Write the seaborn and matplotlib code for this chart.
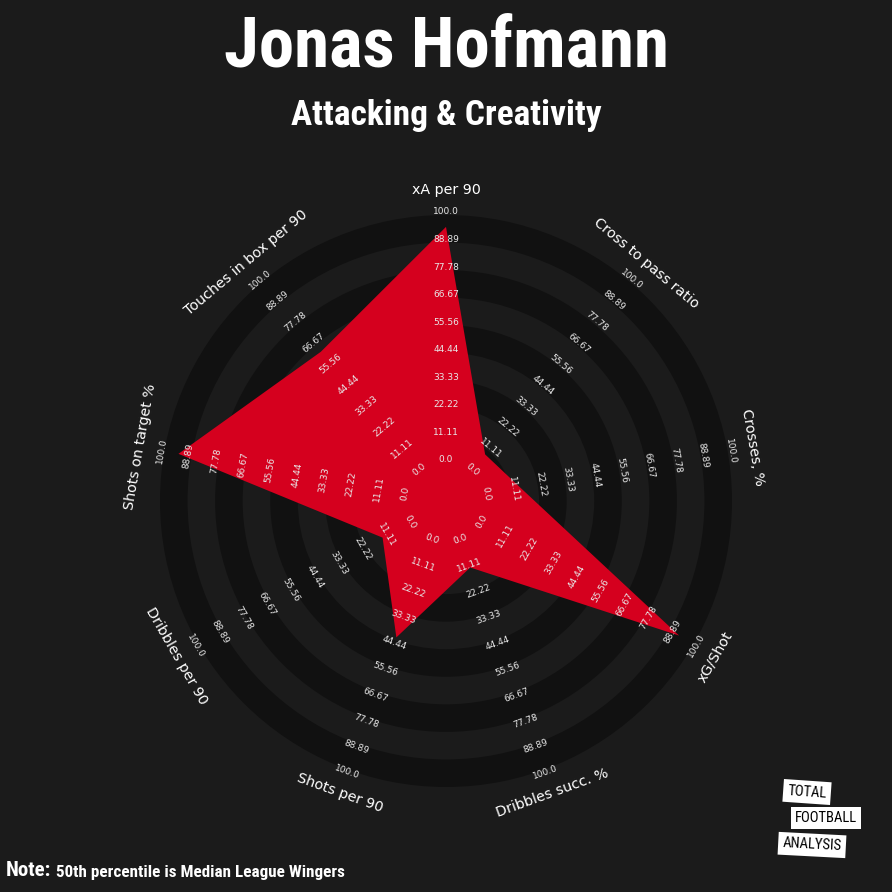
import numpy as np
import matplotlib
matplotlib.use("Agg")
import matplotlib.pyplot as plt
import seaborn as sns
from matplotlib.patches import Circle
from matplotlib import font_manager

# ---------------- data ----------------
params = ["xA per 90", "Cross to pass ratio", "Crosses, %", "xG/Shot",
          "Dribbles succ. %", "Shots per 90", "Dribbles per 90",
          "Shots on target %", "Touches in box per 90"]
values = [94, 8, 14, 92, 12, 42, 13, 93, 62]
range_min, range_max = 0, 100
range_labels = ["0.0", "11.11", "22.22", "33.33", "44.44",
                "55.56", "66.67", "77.78", "88.89", "100.0"]
title = "Jonas Hofmann"
subtitle = "Attacking & Creativity"
note_bold = "Note:"
note_text = "50th percentile is Median League Wingers"
logo_words = ["TOTAL", "FOOTBALL", "ANALYSIS"]

# ---------------- style ----------------
BG = "#1B1B1B"
DARK = "#111111"
RED = "#D5001E"
sns.set_theme(style="dark", rc={"axes.facecolor": BG, "figure.facecolor": BG})
plt.rcParams["font.family"] = ["DejaVu Sans"]

avail = {f.name for f in font_manager.fontManager.ttflist}
COND = [f for f in ["Roboto Condensed", "DejaVu Sans Condensed",
                    "Liberation Sans Narrow", "Roboto", "DejaVu Sans"] if f in avail]
COND = COND[:1] + ["DejaVu Sans"]

W = H = 892
fig = plt.figure(figsize=(W / 100, H / 100), dpi=100)
fig.patch.set_facecolor(BG)
ax = fig.add_axes([0, 0, 1, 1])
ax.set_xlim(0, W)
ax.set_ylim(H, 0)
ax.set_aspect("equal")
ax.axis("off")

cx, cy = 446, 501
R0, R100 = 41, 289
n = len(params)
angles = np.arange(n) * 360.0 / n


def to_r(v):
    return R0 + (v - range_min) / (range_max - range_min) * (R100 - R0)


def pos(a, r):
    t = np.deg2rad(a)
    return cx + r * np.sin(t), cy - r * np.cos(t)


def rot_for(a):
    rot = -a
    if 90 < a < 270:
        rot += 180
    return rot

# concentric bands
nl = len(range_labels)
radii = [R0 + k * (R100 - R0) / (nl - 1) - 3 for k in range(nl)]
for k in range(nl - 1, -1, -1):
    col = DARK if (nl - 1 - k) % 2 == 0 else BG
    ax.add_patch(Circle((cx, cy), radii[k], fc=col, ec="none", zorder=1))

# polygon
pts = [pos(a, to_r(v)) for a, v in zip(angles, values)]
xs = [p[0] for p in pts]
ys = [p[1] for p in pts]
ax.fill(xs, ys, color=RED, zorder=2, lw=0)

# range labels
for a in angles:
    for k, lab in enumerate(range_labels):
        r = R0 + k * (R100 - R0) / (nl - 1)
        x, y = pos(a, r)
        ax.text(x, y, lab, color="#E8E8E8", fontsize=6.5, ha="center",
                va="center", rotation=rot_for(a), rotation_mode="anchor",
                zorder=3)

# parameter labels
for a, p in zip(angles, params):
    x, y = pos(a, 311)
    ax.text(x, y, p, color="white", fontsize=10.3, ha="center", va="center",
            rotation=rot_for(a), rotation_mode="anchor", zorder=3)

# titles
ax.text(446, 47, title, color="white", fontsize=51, fontweight="bold",
        ha="center", va="center", family=COND)
ax.text(446, 115, subtitle, color="white", fontsize=25.5, fontweight="bold",
        ha="center", va="center", family=COND)

# note
t1 = ax.text(6, 870, note_bold, color="white", fontsize=15, fontweight="bold",
             ha="left", va="center", family=COND)
fig.canvas.draw()
bb = t1.get_window_extent(fig.canvas.get_renderer())
x_after = bb.x1 + 5  # axes data coords equal pixels in x
ax.text(x_after, 872, note_text, color="white", fontsize=12.3, fontweight="bold",
        ha="left", va="center", family=COND)

# logo
for (x, y, rot), w in zip([(807, 792, -4), (826, 818, 0), (812, 845, -3)], logo_words):
    ax.text(x, y, w, color="black", fontsize=10.5, ha="center", va="center",
            rotation=rot, family=COND,
            bbox=dict(boxstyle="square,pad=0.3", fc="white", ec="none"))

fig.savefig("out.png", dpi=100, facecolor=BG)
